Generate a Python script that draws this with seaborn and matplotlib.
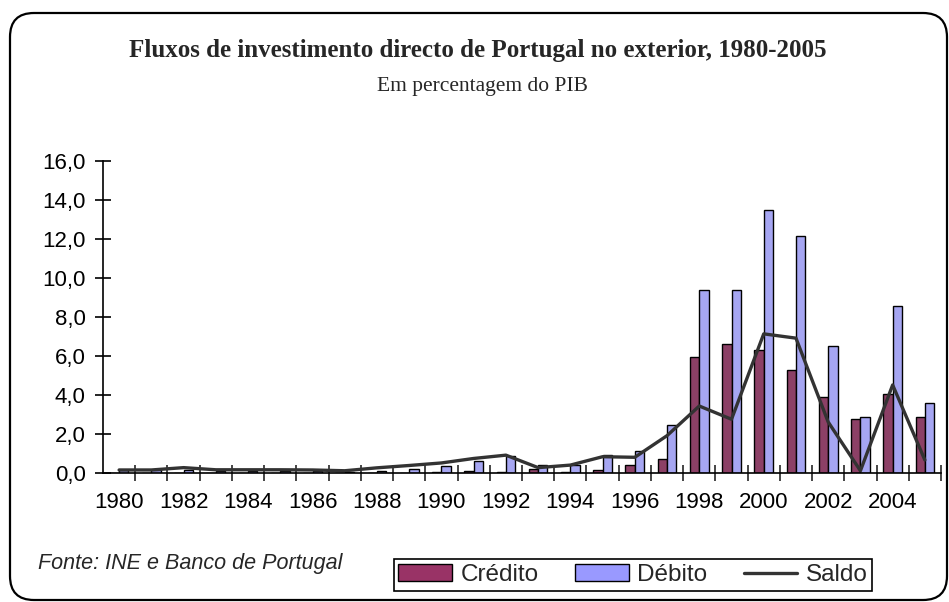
# -*- coding: utf-8 -*-

# Importaciones necesarias
import numpy as np
import pandas as pd
import matplotlib
matplotlib.use('Agg')
import matplotlib.pyplot as plt
from matplotlib.patches import FancyBboxPatch, Patch
from matplotlib.lines import Line2D
import seaborn as sns

# Datos (em % do PIB)
anos = list(range(1980, 2006))
credito = [0.01, 0.01, 0.01, 0.01, 0.01, 0.01, 0.01, 0.01, 0.01, 0.01,
           0.02, 0.08, 0.02, 0.20, 0.03, 0.15, 0.39, 0.70, 5.92, 6.62,
           6.31, 5.29, 3.86, 2.74, 4.06, 2.85]
debito = [0.12, 0.12, 0.15, 0.10, 0.10, 0.10, 0.10, 0.05, 0.10, 0.20,
          0.35, 0.62, 0.85, 0.39, 0.39, 0.90, 1.10, 2.43, 9.37, 9.37,
          13.45, 12.13, 6.52, 2.85, 8.55, 3.56]
saldo = [0.14, 0.14, 0.26, 0.15, 0.15, 0.15, 0.14, 0.10, 0.25, 0.37,
         0.50, 0.73, 0.90, 0.26, 0.39, 0.82, 0.79, 1.90, 3.42, 2.74,
         7.12, 6.90, 2.60, 0.10, 4.50, 0.65]
series = ['Crédito', 'Débito']
cores = ['#993366', '#9999FF']
cor_saldo = '#333333'

df = pd.DataFrame({'Ano': [str(a) for a in anos] * 2,
                   'valor': credito + debito,
                   'Série': [series[0]] * len(anos) + [series[1]] * len(anos)})

sns.set_style("white")
plt.rcParams['font.family'] = ['Liberation Sans', 'DejaVu Sans']

fig = plt.figure(figsize=(9.49, 6.02), dpi=100)
ax = fig.add_axes([103 / 949, 1 - 472.7 / 602, (941 - 103) / 949, (472.7 - 160.7) / 602])

sns.barplot(data=df, x='Ano', y='valor', hue='Série', hue_order=series,
            palette=cores, width=0.58, edgecolor='black', linewidth=1,
            legend=False, ax=ax)
sns.lineplot(x=np.arange(len(anos)), y=saldo, color=cor_saldo, linewidth=2.4, ax=ax)

ax.set_xlim(-0.5, len(anos) - 0.5)
ax.set_ylim(0, 16)
ax.set_xlabel('')
ax.set_ylabel('')

# eixo x: etiquetas a cada 2 anos, marcas entre categorias
ax.set_xticks(np.arange(0, len(anos), 2))
ax.set_xticklabels([str(a) for a in anos[::2]], fontsize=16)
ax.set_xticks(np.arange(0.5, len(anos), 1), minor=True)
ax.tick_params(axis='x', which='major', length=0, pad=14, colors='black')
ax.tick_params(axis='x', which='minor', length=11, width=1.2, direction='inout', bottom=True)

ticks_y = np.arange(0, 17, 2)
ax.set_yticks(ticks_y)
ax.set_yticklabels([f'{v:.1f}'.replace('.', ',') for v in ticks_y], fontsize=16)
ax.tick_params(axis='y', length=11, width=1.2, direction='inout', left=True, pad=7, colors='black')

sns.despine(ax=ax)
for s in ['left', 'bottom']:
    ax.spines[s].set_color('black')
    ax.spines[s].set_linewidth(1.2)

# titulos
fig.text(0.503, 1 - 50 / 602, 'Fluxos de investimento directo de Portugal no exterior, 1980-2005',
         ha='center', va='center', fontsize=18, fontweight='bold', family='Liberation Serif')
fig.text(0.508, 1 - 86 / 602, 'Em percentagem do PIB',
         ha='center', va='center', fontsize=15.5, family='Liberation Serif')

fig.text(38 / 949, 1 - 563 / 602, 'Fonte: INE e Banco de Portugal',
         ha='left', va='center', fontsize=15.5, style='italic')

# legenda
handles = [Patch(facecolor=cores[0], edgecolor='black', linewidth=1),
           Patch(facecolor=cores[1], edgecolor='black', linewidth=1),
           Line2D([0], [0], color=cor_saldo, linewidth=2.4)]
leg = fig.legend(handles, series + ['Saldo'], loc='center', bbox_to_anchor=(0.667, 1 - 575 / 602),
                 ncol=3, frameon=True, fancybox=False, edgecolor='black', framealpha=1,
                 fontsize=17.5, handlelength=2.2, handletextpad=0.35, columnspacing=1.5,
                 borderpad=0.2)
leg.get_frame().set_linewidth(1.2)

# moldura exterior arredondada
borda = FancyBboxPatch((10, 2), 937, 587, boxstyle='round,pad=0,rounding_size=24',
                       transform=None, fill=False, edgecolor='black', linewidth=1.6)
fig.add_artist(borda)

fig.savefig('out.png', dpi=100)
